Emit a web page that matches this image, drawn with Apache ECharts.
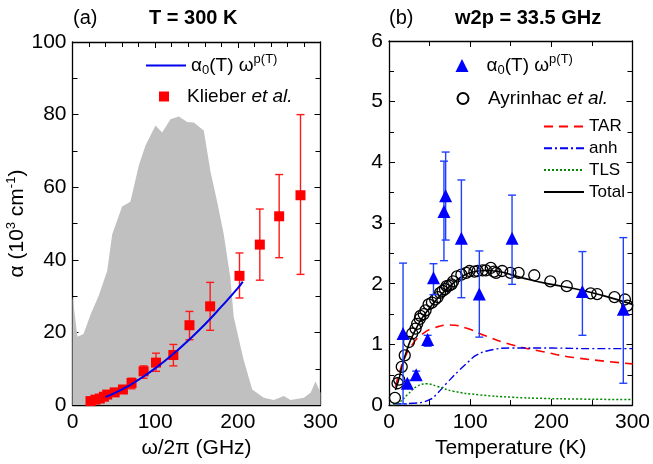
<!DOCTYPE html>
<html><head><meta charset="utf-8">
<script src="https://cdn.jsdelivr.net/npm/echarts@6/dist/echarts.min.js"></script>
<style>html,body{margin:0;padding:0;background:#fff}#c{width:653px;height:464px}</style>
</head><body><div id="c"></div>
<script>
// ---------- Panel (a): T = 300 K ----------
const specX = [0, 6, 13.3, 22, 31.8, 42, 48, 60, 70, 80.2, 88.3, 100.4, 108.5, 118.5, 128.6, 138.8, 146.7, 158.8, 167, 175, 183, 191, 195, 207, 217.4, 231.4, 243.5, 255.6, 263.7, 279.8, 288, 294, 300];
const specY = [30, 18.8, 19.6, 25, 30.2, 37, 47, 54.7, 56, 66, 71.5, 77, 75.1, 78.7, 79.5, 78, 77.8, 75.6, 64.2, 56, 47, 35, 24.3, 12.5, 4.3, 2.0, 1.4, 2.5, 1.4, 2.0, 3.4, 6.5, 3.4];
const klieberX  = [21.8, 27.8, 33, 38, 42, 51, 61, 71.4, 86, 101, 122, 141.5, 166.5, 202, 226.6, 250, 275.8];
const klieberY  = [1.1, 1.5, 1.8, 2.3, 2.9, 3.5, 4.3, 6.1, 9.3, 11.7, 13.8, 22, 27.2, 35.6, 44.2, 52, 57.8];
const klieberLo = [0.8, 1.2, 1.5, 2.0, 2.5, 3.1, 3.6, 4.5, 7.4, 9.3, 10.8, 18, 20.6, 29.5, 34.4, 40.6, 36];
const klieberHi = [1.4, 1.8, 2.1, 2.6, 3.3, 3.9, 5.0, 7.4, 10.8, 14.3, 16.7, 25.8, 33.8, 41.9, 54, 63.5, 80];
const fitAX = [40, 60, 80, 100, 120, 140, 160, 180, 200, 206];
const fitAY = [2.2, 4.3, 7.0, 10.1, 13.7, 17.8, 22.2, 27.1, 32.2, 34];

// ---------- Panel (b): w2p = 33.5 GHz ----------
const triX  = [17.3, 22.6, 33.5, 47.6, 54.8, 67.7, 69.8, 89.2, 111.3, 151.6, 238.3, 288.7];
const triY  = [1.18, 0.36, 0.50, 1.08, 2.10, 3.19, 3.45, 2.75, 1.83, 2.75, 1.87, 1.58];
const triLo = [0.02, 0.31, 0.44, 0.97, 1.82, 2.38, 2.72, 1.77, 1.12, 1.99, 1.15, 0.36];
const triHi = [2.34, 0.41, 0.56, 1.15, 2.33, 4.02, 4.17, 3.71, 2.54, 3.46, 2.53, 2.76];
const ayrX = [7.3, 10.5, 12.5, 15.7, 19.4, 24.6, 28.6, 32.7, 34.7, 37.9, 38.7, 42.7, 45, 48.8, 52.9, 56.9, 60, 62.9, 66, 69, 71, 74, 77, 79, 83.8, 89.2, 95.2, 99.2, 105.2, 109.2, 115.3, 119.4, 125.4, 129.4, 132, 139.5, 149.6, 159.7, 179, 198.8, 219, 248.4, 256.5, 277.8, 290.7, 293.6];
const ayrY = [0.12, 0.36, 0.42, 0.63, 0.82, 1.04, 1.18, 1.26, 1.34, 1.42, 1.47, 1.50, 1.56, 1.66, 1.69, 1.74, 1.78, 1.85, 1.88, 1.91, 1.96, 1.97, 1.99, 2.04, 2.12, 2.15, 2.18, 2.21, 2.20, 2.21, 2.22, 2.22, 2.26, 2.20, 2.18, 2.21, 2.18, 2.18, 2.14, 2.04, 1.96, 1.84, 1.83, 1.78, 1.74, 1.64];
const tarX = [8, 12, 20, 30, 40, 55, 75, 95, 115, 150, 190, 230, 300];
const tarY = [0.3, 0.5, 0.8, 1.02, 1.16, 1.27, 1.32, 1.27, 1.16, 1.0, 0.88, 0.78, 0.68];
const anhX = [5, 30, 50, 60, 71, 87, 100, 107, 123, 150, 200, 250, 300];
const anhY = [0.02, 0.03, 0.09, 0.2, 0.36, 0.58, 0.74, 0.82, 0.9, 0.94, 0.94, 0.93, 0.93];
const tlsX = [5, 12.5, 22.6, 34.7, 46.8, 58.9, 79, 111, 152, 192, 232, 300];
const tlsY = [0.0, 0.04, 0.17, 0.31, 0.35, 0.31, 0.23, 0.17, 0.13, 0.11, 0.10, 0.09];
const totX = [8, 12, 16, 20, 25, 30, 35, 40, 50, 60, 70, 80, 90, 100, 110, 120, 130, 140, 150, 175, 200, 232, 265, 300];
const totY = [0.25, 0.42, 0.63, 0.82, 1.02, 1.17, 1.3, 1.42, 1.6, 1.76, 1.9, 2.02, 2.12, 2.18, 2.21, 2.22, 2.21, 2.19, 2.15, 2.06, 1.99, 1.91, 1.8, 1.66];

const FONT = 'Liberation Sans, Arial, sans-serif';
const zip = (xs, ys) => xs.map((x, i) => [x, ys[i]]);
const zip3 = (xs, a, b) => xs.map((x, i) => [x, a[i], b[i]]);

function errRender(capW, color, w) {
  return function (params, api) {
    const x = api.value(0), lo = api.value(1), hi = api.value(2);
    const a = api.coord([x, lo]), b = api.coord([x, hi]);
    const st = { stroke: color, lineWidth: w };
    return { type: 'group', children: [
      { type: 'line', shape: { x1: a[0], y1: a[1], x2: b[0], y2: b[1] }, style: st },
      { type: 'line', shape: { x1: a[0] - capW / 2, y1: a[1], x2: a[0] + capW / 2, y2: a[1] }, style: st },
      { type: 'line', shape: { x1: b[0] - capW / 2, y1: b[1], x2: b[0] + capW / 2, y2: b[1] }, style: st }
    ]};
  };
}

const axLine = { show: true, onZero: false, lineStyle: { color: '#000', width: 1.3 } };
const axTick = { show: true, inside: true, length: 6, lineStyle: { color: '#000', width: 1 } };
const labelStyle = { color: '#000', fontSize: 21, fontFamily: FONT };

function xAx(grid, pos, split, showLabel, name) {
  return {
    type: 'value', gridIndex: grid, position: pos, min: 0, max: 300, interval: 100,
    axisLine: axLine, axisTick: axTick,
    minorTick: { show: true, splitNumber: split, length: 5, lineStyle: { color: '#000', width: 1 } },
    splitLine: { show: false },
    axisLabel: Object.assign({ show: showLabel, margin: 7 }, labelStyle),
    name: name || '', nameLocation: 'middle', nameGap: 28,
    nameTextStyle: { color: '#000', fontSize: 21, fontFamily: FONT }
  };
}
function yAx(grid, pos, max, interval, split, showLabel, name) {
  return {
    type: 'value', gridIndex: grid, position: pos, min: 0, max: max, interval: interval,
    axisLine: axLine, axisTick: axTick,
    minorTick: { show: true, splitNumber: split, length: 5, lineStyle: { color: '#000', width: 1 } },
    splitLine: { show: false },
    axisLabel: Object.assign({ show: showLabel, margin: 6 }, labelStyle),
    name: name || '', nameLocation: 'middle', nameGap: 36, nameRotate: 90,
    nameTextStyle: { color: '#000', fontSize: 21, fontFamily: FONT,
      rich: { sup: { fontSize: 13, fontFamily: FONT, color: '#000', padding: [0, 0, 12, 0] } } }
  };
}

const richLeg = {
  t: { fontSize: 19, fontFamily: FONT, color: '#000' },
  i: { fontSize: 19, fontFamily: FONT, color: '#000', fontStyle: 'italic' },
  sub: { fontSize: 13, fontFamily: FONT, color: '#000', padding: [10, 0, 0, 0] },
  sup: { fontSize: 13, fontFamily: FONT, color: '#000', padding: [0, 0, 12, 0] },
  g13: { width: 13, fontSize: 19 },
  g14: { width: 14.5, fontSize: 19 },
  g12: { width: 13, fontSize: 19 }
};
const legText = {
  'a_fit': '{t|α}{sub|0}{t|(T) ω}{sup|p(T)}',
  'a_kl': '{g12|}{t|Klieber }{i|et al.}',
  'b_fit': '{g13|}{t|α}{sub|0}{t|(T) ω}{sup|p(T)}',
  'b_ayr': '{g14|}{t|Ayrinhac }{i|et al.}'
};
function leg(name, left, top, w, h, hideSym) {
  const o = {
    data: [name], left: left, top: top, padding: 0, itemWidth: w, itemHeight: h,
    selectedMode: false, formatter: n => legText[n],
    textStyle: { color: '#000', fontSize: 19, fontFamily: FONT, rich: richLeg }
  };
  if (hideSym) o.itemStyle = { opacity: 0 };
  return o;
}

const option = {
  animation: false,
  backgroundColor: '#fff',
  textStyle: { fontFamily: FONT },
  title: [
    { text: '(a)', left: 73, top: 8, padding: 0, textStyle: { fontSize: 20, fontWeight: 'normal', color: '#000', fontFamily: FONT } },
    { text: 'T = 300 K', left: 149, top: 8, padding: 0, textStyle: { fontSize: 20, fontWeight: 'bold', color: '#000', fontFamily: FONT } },
    { text: '(b)', left: 389, top: 8, padding: 0, textStyle: { fontSize: 20, fontWeight: 'normal', color: '#000', fontFamily: FONT } },
    { text: 'w2p = 33.5 GHz', left: 455, top: 8, padding: 0, textStyle: { fontSize: 20, fontWeight: 'bold', color: '#000', fontFamily: FONT } }
  ],
  grid: [
    { left: 72.5, width: 248, top: 42, bottom: 54 },
    { left: 389, width: 247, top: 41, bottom: 56 }
  ],
  xAxis: [
    xAx(0, 'bottom', 5, true, 'ω/2π (GHz)'),
    xAx(0, 'top', 5, false),
    xAx(1, 'bottom', 2, true, 'Temperature (K)'),
    xAx(1, 'top', 2, false)
  ],
  yAxis: [
    yAx(0, 'left', 100, 20, 2, true, 'α (10{sup|3} cm{sup|-1})'),
    yAx(0, 'right', 100, 20, 2, false),
    yAx(1, 'left', 6, 1, 2, true),
    yAx(1, 'right', 6, 1, 2, false)
  ],
  legend: [
    leg('a_fit', 145, 53, 40, 14, true),
    leg('a_kl', 159, 87, 10, 10, false),
    leg('b_fit', 455.5, 53, 13, 13, false),
    leg('b_ayr', 456.5, 89, 11, 11, false),
    {
      data: ['TAR', 'anh', 'TLS', 'Total'], orient: 'vertical', left: 543, top: 118, padding: 0,
      itemWidth: 40, itemHeight: 14, itemGap: 4.8, selectedMode: false, itemStyle: { opacity: 0 },
      textStyle: { color: '#000', fontSize: 17, fontFamily: FONT }
    }
  ],
  series: [
    // panel (a)
    { type: 'line', name: 'spectrum', xAxisIndex: 0, yAxisIndex: 0, data: zip(specX, specY),
      symbol: 'none', lineStyle: { width: 0, opacity: 0 }, areaStyle: { color: '#c0c0c0', opacity: 1 }, z: 1 },
    { type: 'custom', name: 'kl_err', xAxisIndex: 0, yAxisIndex: 0, data: zip3(klieberX, klieberLo, klieberHi),
      renderItem: errRender(8, '#ff1a1a', 1.4), encode: { x: 0, y: [1, 2] }, z: 3 },
    { type: 'scatter', name: 'a_kl', xAxisIndex: 0, yAxisIndex: 0, data: zip(klieberX, klieberY),
      symbol: 'rect', symbolSize: 10, itemStyle: { color: '#ff0000', opacity: 1 }, z: 4 },
    { type: 'line', name: 'a_fit', xAxisIndex: 0, yAxisIndex: 0, data: zip(fitAX, fitAY),
      symbol: 'none', smooth: true, lineStyle: { color: '#0000ee', width: 2 }, itemStyle: { color: '#0000ee' }, z: 5 },
    // panel (b)
    { type: 'line', name: 'TAR', xAxisIndex: 2, yAxisIndex: 2, data: zip(tarX, tarY), symbol: 'none', smooth: true,
      lineStyle: { color: '#ff0000', width: 1.6, type: [9, 6] }, itemStyle: { color: '#ff0000' }, z: 3 },
    { type: 'line', name: 'anh', xAxisIndex: 2, yAxisIndex: 2, data: zip(anhX, anhY), symbol: 'none', smooth: true,
      lineStyle: { color: '#0000ee', width: 1.4, type: [8, 3, 2, 3] }, itemStyle: { color: '#0000ee' }, z: 3 },
    { type: 'line', name: 'TLS', xAxisIndex: 2, yAxisIndex: 2, data: zip(tlsX, tlsY), symbol: 'none', smooth: true,
      lineStyle: { color: '#008800', width: 1.5, type: [2, 2] }, itemStyle: { color: '#008800' }, z: 3 },
    { type: 'line', name: 'Total', xAxisIndex: 2, yAxisIndex: 2, data: zip(totX, totY), symbol: 'none', smooth: true,
      lineStyle: { color: '#000', width: 1.6 }, itemStyle: { color: '#000' }, z: 4 },
    { type: 'scatter', name: 'b_ayr', xAxisIndex: 2, yAxisIndex: 2, data: zip(ayrX, ayrY),
      symbol: 'circle', symbolSize: 11, itemStyle: { color: 'rgba(255,255,255,0)', borderColor: '#000', borderWidth: 1.3, opacity: 1 }, z: 5 },
    { type: 'custom', name: 'tri_err', xAxisIndex: 2, yAxisIndex: 2, data: zip3(triX, triLo, triHi),
      renderItem: errRender(8, '#2040ff', 1.4), encode: { x: 0, y: [1, 2] }, z: 6 },
    { type: 'scatter', name: 'b_fit', xAxisIndex: 2, yAxisIndex: 2, data: zip(triX, triY),
      symbol: 'triangle', symbolSize: 13, itemStyle: { color: '#0000ff', opacity: 1 }, z: 7 }
  ]
};

const chart = echarts.init(document.getElementById('c'), null, { renderer: 'canvas' });
chart.setOption(option);
</script>
</body></html>
